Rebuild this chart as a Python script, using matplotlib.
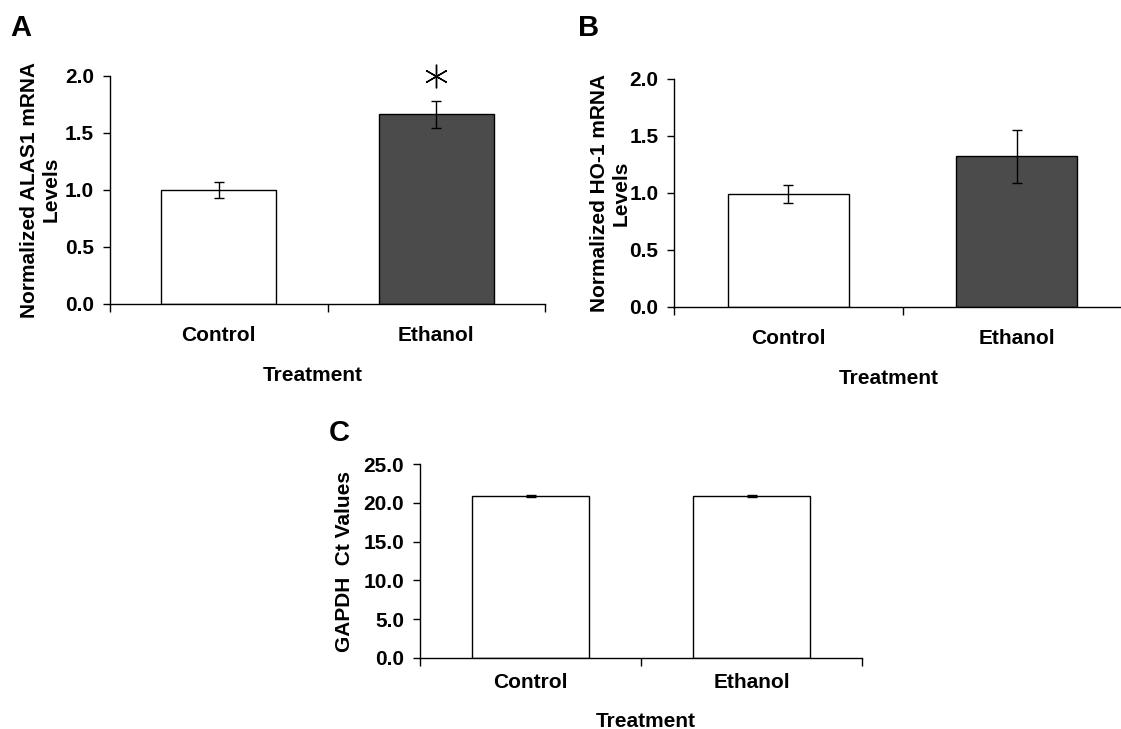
import numpy as np
import matplotlib
matplotlib.use("Agg")
import matplotlib.pyplot as plt

plt.rcParams['font.family'] = ['Liberation Sans', 'DejaVu Sans']
plt.rcParams['font.weight'] = 'bold'

# data
groups = ["Control", "Ethanol"]
alas1_mean = [1.00, 1.66]
alas1_err = [0.07, 0.12]
ho1_mean = [0.99, 1.32]
ho1_err = [0.08, 0.235]
gapdh_mean = [20.85, 20.90]
gapdh_err = [0.10, 0.10]
treat_colors = ["white", "#4b4b4b"]
gapdh_colors = ["white", "white"]
alas1_star_level = 2.0

FS = 15


def draw_panel(ax, means, errs, colors, yticks, ylabel, xpad, xlabpad, ylabpad, xlab_x):
    x = np.arange(len(groups))
    ax.bar(x, means, width=0.53, color=colors, edgecolor="black", linewidth=1.0, zorder=2)
    ax.errorbar(x, means, yerr=errs, fmt="none", ecolor="black", elinewidth=1.0,
                capsize=3.5, capthick=1.0, zorder=3)
    ax.set_xlim(-0.5, 1.5)
    ax.set_ylim(yticks[0], yticks[-1])
    ax.set_yticks(yticks)
    ax.set_yticklabels(["{:.1f}".format(v) for v in yticks], fontsize=FS, fontweight="bold")
    ax.set_xticks([-0.5, 0.5, 1.5])
    ax.set_xticklabels([])
    ax.set_xticks(x, minor=True)
    ax.set_xticklabels(groups, minor=True, fontsize=FS, fontweight="bold")
    ax.tick_params(axis="x", which="major", direction="out", length=6, width=1.0)
    ax.tick_params(axis="x", which="minor", length=0, pad=xpad)
    ax.tick_params(axis="y", direction="out", length=5, width=1.0, pad=6.5)
    for s in ["top", "right"]:
        ax.spines[s].set_visible(False)
    for s in ["left", "bottom"]:
        ax.spines[s].set_linewidth(1.0)
    ax.set_xlabel("Treatment", fontsize=FS, fontweight="bold", labelpad=xlabpad, x=xlab_x)
    ax.set_ylabel(ylabel, fontsize=FS, fontweight="bold", labelpad=ylabpad, linespacing=1.15)


fig = plt.figure(figsize=(11.21, 7.29), dpi=100)

axA = fig.add_axes([0.0981, 0.5834, 0.3881, 0.3128])
draw_panel(axA, alas1_mean, alas1_err, treat_colors, np.arange(0, 2.01, 0.5),
           "Normalized ALAS1 mRNA\nLevels", 16, 15, 3, 0.4655)
axA.plot(1, alas1_star_level, marker=(6, 2, 0), ms=17, mew=1.0, color="black", clip_on=False)

axB = fig.add_axes([0.6015, 0.5789, 0.4074, 0.3128])
draw_panel(axB, ho1_mean, ho1_err, treat_colors, np.arange(0, 2.01, 0.5),
           "Normalized HO-1 mRNA\nLevels", 16, 15, -1, 0.47)

axC = fig.add_axes([0.3747, 0.0974, 0.3943, 0.2661])
draw_panel(axC, gapdh_mean, gapdh_err, gapdh_colors, np.arange(0, 25.01, 5.0),
           "GAPDH  Ct Values", 11, 14, 7, 0.51)

fig.text(0.0089, 0.961, "A", fontsize=21, fontweight="bold", va="center")
fig.text(0.5155, 0.961, "B", fontsize=21, fontweight="bold", va="center")
fig.text(0.2935, 0.406, "C", fontsize=21, fontweight="bold", va="center")

fig.savefig("out.png", dpi=100)
